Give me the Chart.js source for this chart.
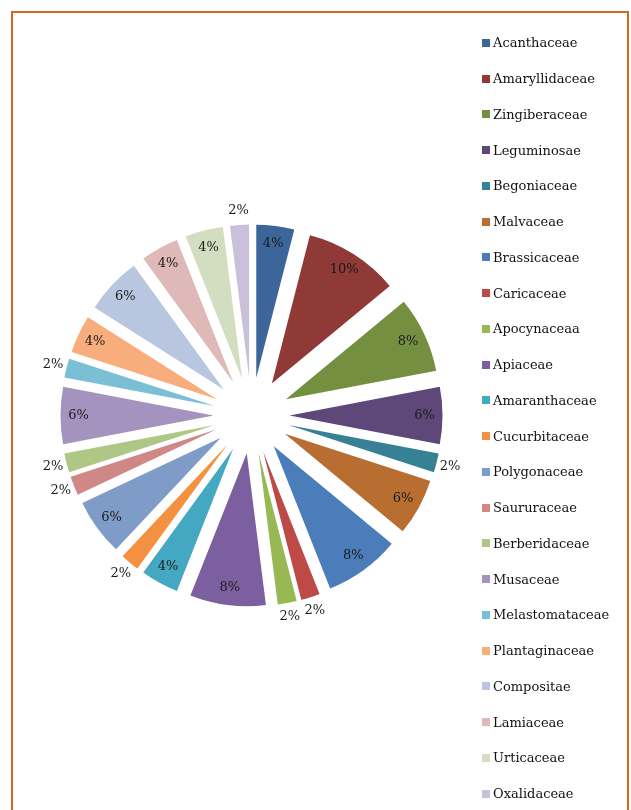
<!DOCTYPE html>
<html>
<head>
<meta charset="utf-8">
<script src="https://cdn.jsdelivr.net/npm/chart.js@4.4.1/dist/chart.umd.min.js"></script>
<style>
  html, body { margin: 0; padding: 0; background: #fff; overflow: hidden; }
  #frame {
    position: absolute; left: 11px; top: 11px; width: 614px; height: 830px;
    border: 2px solid #D9661F; border-bottom: none;
  }
  #wrap { position: absolute; left: 0; top: 0; width: 503px; height: 831px; }
  #legend {
    position: absolute; left: 482px; top: 25px; margin: 0; padding: 0;
    list-style: none; font: 13px 'DejaVu Serif', serif; color: #111;
  }
  #legend li { height: 35.76px; display: flex; align-items: center; white-space: nowrap; }
  #legend .box { width: 8px; height: 8px; margin-right: 3px; flex: none; }
</style>
</head>
<body>
<div id="frame"></div>
<div id="wrap"><canvas id="familyChart" width="503" height="831"></canvas></div>
<ul id="legend"></ul>

<script>
// plant families and their share of species (%)
const families = ['Acanthaceae', 'Amaryllidaceae', 'Zingiberaceae', 'Leguminosae', 'Begoniaceae',
  'Malvaceae', 'Brassicaceae', 'Caricaceae', 'Apocynaceaa', 'Apiaceae', 'Amaranthaceae',
  'Cucurbitaceae', 'Polygonaceae', 'Saururaceae', 'Berberidaceae', 'Musaceae',
  'Melastomataceae', 'Plantaginaceae', 'Compositae', 'Lamiaceae', 'Urticaceae', 'Oxalidaceae'];
const shares = [4, 10, 8, 6, 2, 6, 8, 2, 2, 8, 4, 2, 6, 2, 2, 6, 2, 4, 6, 4, 4, 2];
const colors = ['#3C659A', '#8F3A37', '#758F40', '#5D4879', '#368194', '#B96E31',
  '#4A7DBA', '#BD4A47', '#97B853', '#7C5F9F', '#45A8C3', '#F39140',
  '#7F9CC9', '#CF8885', '#AEC784', '#A493BE', '#7BBFD4', '#F8AE7C',
  '#B8C6E0', '#DFB9B8', '#D2DEBF', '#C9C0D9'];

const explode = 38;    // px each slice is pushed out
const pieRadius = 153; // px

// exploded pie like Excel: every slice moved out along its middle angle,
// same radius for all (the built-in offset also shrinks/grows the arcs)
const explodeSlices = {
  id: 'explodeSlices',
  afterDatasetUpdate(chart, args) {
    args.meta.data.forEach(arc => {
      const mid = (arc.startAngle + arc.endAngle) / 2;
      arc.x += Math.cos(mid) * explode;
      arc.y += Math.sin(mid) * explode;
      arc.outerRadius = pieRadius;
    });
  }
};

// percentage labels: inside the end for big slices, outside for the 2% ones
const pctLabels = {
  id: 'pctLabels',
  afterDatasetsDraw(chart) {
    const ctx = chart.ctx;
    const meta = chart.getDatasetMeta(0);
    ctx.save();
    ctx.font = '13px "DejaVu Serif", serif';
    ctx.fillStyle = '#1a1a1a';
    ctx.textAlign = 'center';
    ctx.textBaseline = 'middle';
    meta.data.forEach((arc, i) => {
      const v = shares[i];
      const mid = (arc.startAngle + arc.endAngle) / 2;
      const r = v <= 2 ? pieRadius + 14 : pieRadius - 18;
      ctx.fillText(v + '%', arc.x + Math.cos(mid) * r, arc.y + Math.sin(mid) * r);
    });
    ctx.restore();
  }
};

const ctx1 = document.getElementById('familyChart');

const familyChart = new Chart(ctx1, {
  type: 'pie',
  data: {
    labels: families,
    datasets: [{
      data: shares,
      backgroundColor: colors,
      borderWidth: 0,
    }]
  },
  options: {
    responsive: false,
    animation: false,
    events: [],
    plugins: {
      legend: { display: false },
      tooltip: { enabled: false }
    }
  },
  plugins: [explodeSlices, pctLabels]
});

// legend as html, from the chart's own legend items
const legendList = document.getElementById('legend');
Chart.overrides.pie.plugins.legend.labels.generateLabels(familyChart).forEach(item => {
  const li = document.createElement('li');
  const box = document.createElement('span');
  box.className = 'box';
  box.style.background = item.fillStyle;
  li.appendChild(box);
  li.appendChild(document.createTextNode(item.text));
  legendList.appendChild(li);
});
</script>
</body>
</html>
